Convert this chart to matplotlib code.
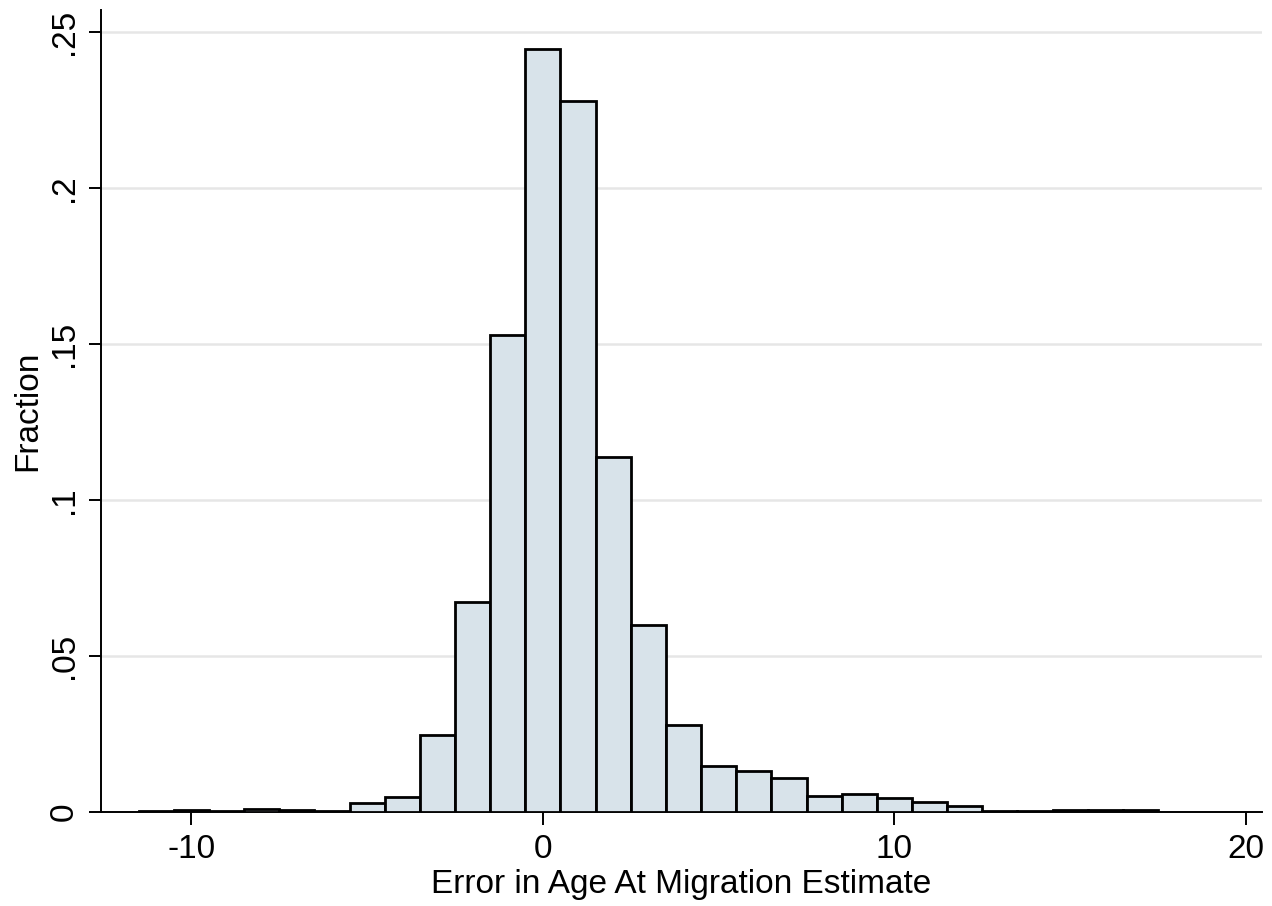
import matplotlib.pyplot as plt
import numpy as np

# histogram bins, centred on integers (width 1)
bin_centers = np.arange(-11, 18)
fractions = [0.0003, 0.0006, 0.0002, 0.0010, 0.0006, 0.0003,
             0.0030, 0.0048, 0.0247, 0.0673, 0.1530, 0.2447,
             0.2280, 0.1138, 0.0600, 0.0280, 0.0148, 0.0131,
             0.0110, 0.0052, 0.0058, 0.0045, 0.0032, 0.0020,
             0.0003, 0.0003, 0.0006, 0.0006, 0.0007]
x_ticks = [-10, 0, 10, 20]
y_ticks = [0, 0.05, 0.1, 0.15, 0.2, 0.25]
y_ticklabels = ['0', '.05', '.1', '.15', '.2', '.25']

plt.rcParams['font.family'] = ['Liberation Sans', 'DejaVu Sans']
plt.rcParams['axes.unicode_minus'] = False

fig = plt.figure(figsize=(12.72, 9.06), dpi=100)
ax = fig.add_axes([0.0794, 0.1038, 0.9126, 0.885])

ax.bar(bin_centers, fractions, width=1.0, color='#d8e3ea',
       edgecolor='black', linewidth=2.0, zorder=3)

ax.set_xlim(-12.57, 20.45)
ax.set_ylim(0, 0.257)

ax.set_yticks(y_ticks)
ax.set_yticklabels(y_ticklabels, rotation=90, va='center')
ax.set_xticks(x_ticks)
ax.grid(axis='y', color='#e6e6e6', linewidth=1.8, zorder=0)

for s in ['top', 'right']:
    ax.spines[s].set_visible(False)
for s in ['left', 'bottom']:
    ax.spines[s].set_linewidth(1.4)

ax.tick_params(axis='both', labelsize=24, length=9, width=1.4, pad=7)
ax.tick_params(axis='y', pad=6)
ax.set_xlabel('Error in Age At Migration Estimate', fontsize=24, labelpad=3)
ax.set_ylabel('Fraction', fontsize=24, labelpad=4)

fig.savefig('out.png', dpi=100)
